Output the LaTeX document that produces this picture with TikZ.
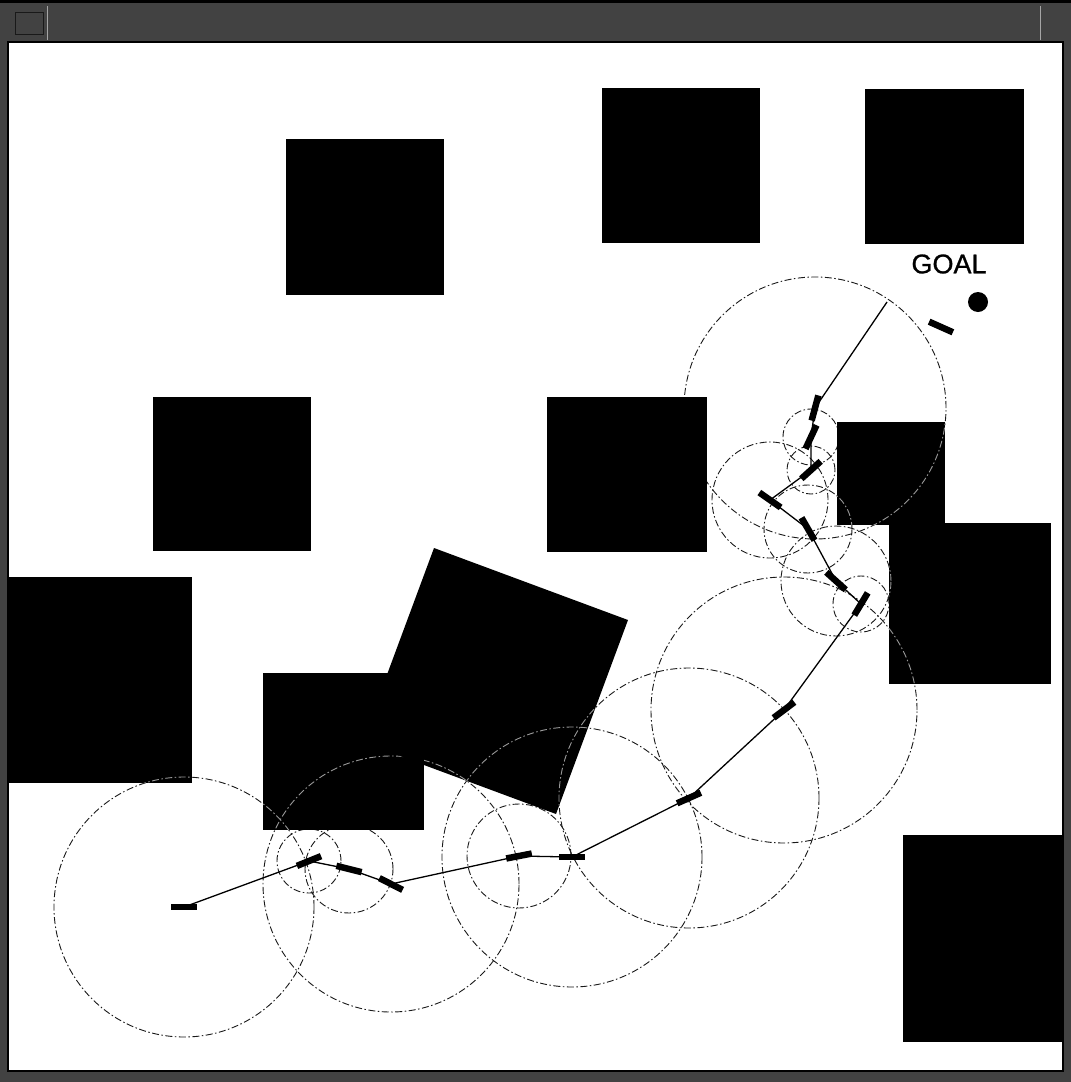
\documentclass[tikz,border=0pt]{standalone}
\usepackage{fontspec}
\newfontfamily\labelfont[FakeBold=0.9]{Liberation Sans}
\begin{document}
\begin{tikzpicture}[x=1pt,y=-1pt,
  obst/.style={fill=black,draw=none},
  pathl/.style={draw=black,line width=1.3pt},
  posebar/.style={draw=black,line width=6.5pt,line cap=butt},
  rng/.style={draw=black!90,line width=0.9pt,dash pattern=on 7pt off 2.5pt on 1.5pt off 2.5pt},
  rngin/.style={draw=black!40,line width=0.9pt,dash pattern=on 7pt off 2.5pt on 1.5pt off 2.5pt},
  framefill/.style={fill=black!74,draw=none}]
\useasboundingbox (0,0) rectangle (1071,1082);
\fill[white] (0,0) rectangle (1071,1082);
% robot poses
\coordinate (p0) at (184,907);
\coordinate (p1) at (309,861);
\coordinate (p2) at (349,869);
\coordinate (p3) at (391,884);
\coordinate (p4) at (519,856);
\coordinate (p5) at (572,857);
\coordinate (p6) at (689,798);
\coordinate (p7) at (784,710);
\coordinate (p8) at (861,604);
\coordinate (p9) at (836,581);
\coordinate (p10) at (808,529);
\coordinate (p11) at (770,500);
\coordinate (p12) at (811,470);
\coordinate (p13) at (811,437);
\coordinate (p14) at (815,408);
\coordinate (p15) at (941,327);
\coordinate (sub) at (887,302);
% range circles (under obstacles)
\foreach \p/\r in {p0/130,p1/32,p2/44,p3/128,p4/52,p5/130,p6/130,p7/133,p8/28,p9/55,p10/44,p11/58,p12/24,p13/28,p14/131}
  \draw[rng] (\p) circle[radius=\r pt];
% obstacles
\fill[obst] (286,139) rectangle (444,295);
\fill[obst] (602,88) rectangle (760,243);
\fill[obst] (865,89) rectangle (1024,244);
\fill[obst] (153,397) rectangle (311,551);
\fill[obst] (547,397) rectangle (707,552);
\fill[obst] (837,422) rectangle (945,525);
\fill[obst] (889,523) rectangle (1051,684);
\fill[obst] (8,577) rectangle (192,783);
\fill[obst] (434,548) -- (628,620) -- (556,814) -- (362,742) -- cycle;
\fill[obst] (263,673) rectangle (424,830);
\fill[obst] (903,835) rectangle (1064,1042);
% circle arcs seen inside obstacles
\begin{scope}
\clip (263,673) rectangle (424,830) (434,548) -- (628,620) -- (556,814) -- (362,742) -- cycle
      (837,422) rectangle (945,525) (889,523) rectangle (1051,684) (8,577) rectangle (192,783);
\foreach \p/\r in {p0/130,p3/128,p5/130,p6/130,p7/133,p9/55,p10/44,p11/58,p14/131}
  \draw[rngin] (\p) circle[radius=\r pt];
\end{scope}
% path
\draw[pathl] (p0) -- (p1) -- (p2) -- (p3) -- (p4) -- (p5) -- (p6) -- (p7) -- (p8) -- (p9) -- (p10) -- (p11) -- (p12) -- (p13) -- (p14) -- (sub);
% pose bars
\foreach \p/\a in {p0/0,p1/-22,p2/14,p3/27,p4/-11,p5/0,p6/-24,p7/-37,p8/-59,p9/42,p10/60,p11/35,p12/-42,p13/-65,p14/-75,p15/24}
  \draw[posebar] (\p) ++(\a+180:13) -- ++(\a:26);
% goal
\node[font=\labelfont\fontsize{27}{27}\selectfont,inner sep=0pt,text=black] (goallabel) at (949,264) {GOAL};
\fill (978,302) circle[radius=10pt];
% window frame
\fill[framefill] (0,0) rectangle (1071,43);
\fill[framefill] (0,0) rectangle (8,1082);
\fill[framefill] (1063,0) rectangle (1071,1082);
\fill[framefill] (0,1071) rectangle (1071,1082);
\draw[black,line width=3pt] (0,1.5) -- (1071,1.5);
\draw[black,line width=2pt] (8,42) -- (1063,42) -- (1063,1071) -- (8,1071) -- cycle;
\draw[black!35,line width=1pt] (47,6) -- (47,40);
\draw[black!35,line width=1pt] (1040,6) -- (1040,40);
\draw[black!90,line width=1pt] (15,12) rectangle (43,34);
\end{tikzpicture}
\end{document}
